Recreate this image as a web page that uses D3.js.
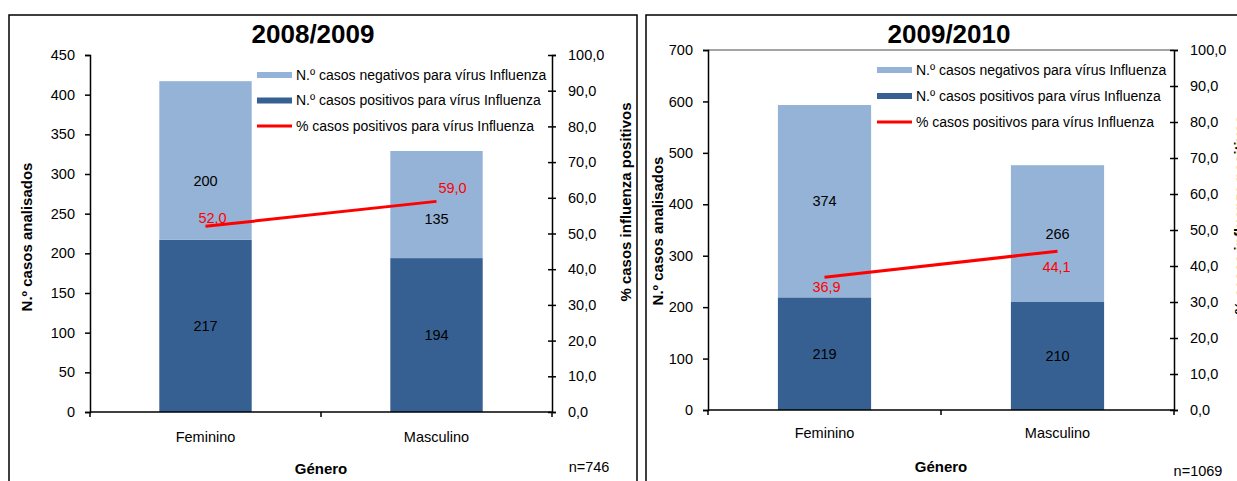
<!DOCTYPE html>
<html>
<head>
<meta charset="utf-8">
<script src="https://cdn.jsdelivr.net/npm/d3@7"></script>
<style>
  body { margin: 0; background: #fff; }
  svg { display: block; font-family: Arial, "Liberation Sans", sans-serif; }
</style>
</head>
<body>
<svg id="chart" width="1237" height="481"></svg>
<script>
// Casos analisados por género e época gripal
const generos = ["Feminino", "Masculino"];

const positivos0809 = [217, 194];
const negativos0809 = [200, 135];
const percentPos0809 = [52.0, 59.0];

const positivos0910 = [219, 210];
const negativos0910 = [374, 266];
const percentPos0910 = [36.9, 44.1];

const ticksCasos0809 = [0, 50, 100, 150, 200, 250, 300, 350, 400, 450];
const ticksCasos0910 = [0, 100, 200, 300, 400, 500, 600, 700];
const ticksPercent = [0, 10, 20, 30, 40, 50, 60, 70, 80, 90, 100];

const legendLabels = [
  "N.º casos negativos para vírus Influenza",
  "N.º casos positivos para vírus Influenza",
  "% casos positivos para vírus Influenza"
];

const COLOR_NEG = "#95b3d7";
const COLOR_POS = "#376092";
const COLOR_LINE = "#ff0000";

// Portuguese number format: decimal comma
const pt = d3.formatLocale({ decimal: ",", thousands: ".", grouping: [3], currency: ["", " €"] });
const fmt1 = pt.format(".1f");

const svg = d3.select("#chart");

function drawPanel(cfg) {
  const g = svg.append("g");

  // outer frame
  g.append("rect")
    .attr("x", cfg.box.x).attr("y", cfg.box.y)
    .attr("width", cfg.box.w).attr("height", cfg.box.h)
    .attr("fill", "none").attr("stroke", "#000").attr("stroke-width", 1.5);

  const { l, r, t, b } = cfg.plot;

  const x = d3.scaleBand().domain(generos).range([l, r])
    .paddingInner(0.6).paddingOuter(0.3);
  const yL = d3.scaleLinear().domain(cfg.casosDomain).range([b, t]);
  const yR = d3.scaleLinear().domain([0, 100]).range([b, t]);

  // optional top border of plot area
  if (cfg.topLine) {
    g.append("line").attr("x1", l).attr("x2", r).attr("y1", t).attr("y2", t)
      .attr("stroke", "#868686").attr("stroke-width", 1.5);
  }

  // stacked bars
  const rows = generos.map((d, i) => ({
    genero: d, pos: cfg.positivos[i], neg: cfg.negativos[i], pct: cfg.percent[i]
  }));

  g.selectAll(".pos").data(rows).join("rect")
    .attr("x", d => x(d.genero)).attr("width", x.bandwidth())
    .attr("y", d => yL(d.pos)).attr("height", d => yL(0) - yL(d.pos))
    .attr("fill", COLOR_POS);

  g.selectAll(".neg").data(rows).join("rect")
    .attr("x", d => x(d.genero)).attr("width", x.bandwidth())
    .attr("y", d => yL(d.pos + d.neg)).attr("height", d => yL(d.pos) - yL(d.pos + d.neg))
    .attr("fill", COLOR_NEG);

  // value labels inside the segments
  g.selectAll(".lblPos").data(rows).join("text")
    .attr("x", d => x(d.genero) + x.bandwidth() / 2)
    .attr("y", d => yL(d.pos / 2)).attr("dy", "0.35em")
    .attr("text-anchor", "middle").attr("font-size", 14.5).attr("fill", "#000")
    .text(d => d.pos);

  g.selectAll(".lblNeg").data(rows).join("text")
    .attr("x", d => x(d.genero) + x.bandwidth() / 2)
    .attr("y", (d, i) => yL(d.pos + d.neg / 2) + cfg.negShift[i]).attr("dy", "0.35em")
    .attr("text-anchor", "middle").attr("font-size", 14.5).attr("fill", "#000")
    .text(d => d.neg);

  // axes
  const axL = d3.axisLeft(yL).tickValues(cfg.casosTicks).tickSize(5).tickPadding(10)
    .tickFormat(d3.format("d"));
  const gL = g.append("g").attr("transform", `translate(${l},0)`).call(axL);

  const axR = d3.axisRight(yR).tickValues(ticksPercent).tickSize(4).tickPadding(12)
    .tickFormat(fmt1);
  const gR = g.append("g").attr("transform", `translate(${r},0)`).call(axR);
  gR.selectAll(".tick line").attr("x1", -4).attr("x2", 4);

  const axB = d3.axisBottom(x).tickSize(0).tickPadding(cfg.xLabelPad);
  const gB = g.append("g").attr("transform", `translate(0,${b})`).call(axB);
  gB.select(".domain").attr("d", `M${l},0H${r}`);
  [0, 1, 2].forEach(i => {
    const xx = l + i * x.step();
    gB.append("line").attr("x1", xx).attr("x2", xx).attr("y1", 0).attr("y2", 5)
      .attr("stroke", "#000").attr("stroke-width", 1.5);
  });

  [gL, gR, gB].forEach(a => {
    a.selectAll("text").attr("font-size", 14.5).attr("fill", "#000")
      .attr("font-family", "Arial, 'Liberation Sans', sans-serif");
    a.selectAll("line").attr("stroke", "#000").attr("stroke-width", 1.5);
    a.select(".domain").attr("stroke", "#000").attr("stroke-width", 1.5);
  });

  // percentage line
  const line = d3.line().x(d => x(d.genero) + x.bandwidth() / 2).y(d => yR(d.pct));
  g.append("path").datum(rows).attr("d", line)
    .attr("fill", "none").attr("stroke", COLOR_LINE).attr("stroke-width", 3);

  g.selectAll(".lblPct").data(rows).join("text")
    .attr("x", (d, i) => x(d.genero) + x.bandwidth() / 2 + cfg.pctShift[i][0])
    .attr("y", (d, i) => yR(d.pct) + cfg.pctShift[i][1]).attr("dy", "0.35em")
    .attr("text-anchor", "middle").attr("font-size", 14.5).attr("fill", COLOR_LINE)
    .text(d => fmt1(d.pct));

  // title
  g.append("text").attr("x", cfg.titleX).attr("y", 34).attr("dy", "0.35em")
    .attr("text-anchor", "middle").attr("font-size", 26).attr("font-weight", "bold")
    .text(cfg.title);

  // axis titles
  g.append("text")
    .attr("transform", `translate(${cfg.yTitleL[0]},${cfg.yTitleL[1]}) rotate(-90)`)
    .attr("dy", "0.35em").attr("text-anchor", "middle")
    .attr("font-size", 15).attr("font-weight", "bold")
    .text("N.º casos analisados");

  g.append("text")
    .attr("transform", `translate(${cfg.yTitleR[0]},${cfg.yTitleR[1]}) rotate(-90)`)
    .attr("dy", "0.35em").attr("text-anchor", "middle")
    .attr("font-size", 15).attr("font-weight", "bold")
    .text("% casos influenza positivos");

  g.append("text").attr("x", l + x.step()).attr("y", cfg.xTitleY).attr("dy", "0.35em")
    .attr("text-anchor", "middle").attr("font-size", 15).attr("font-weight", "bold")
    .text("Género");

  g.append("text").attr("x", cfg.nPos[0]).attr("y", cfg.nPos[1]).attr("dy", "0.35em")
    .attr("text-anchor", "middle").attr("font-size", 14.5)
    .text(cfg.n);

  // legend
  const lg = g.append("g").attr("transform", `translate(${cfg.legend[0]},${cfg.legend[1]})`);
  legendLabels.forEach((label, i) => {
    const yy = i * cfg.legendStep;
    if (i < 2) {
      lg.append("rect").attr("x", 0).attr("y", yy - 3).attr("width", 35).attr("height", 6)
        .attr("fill", i === 0 ? COLOR_NEG : COLOR_POS);
    } else {
      lg.append("line").attr("x1", 0).attr("x2", 35).attr("y1", yy).attr("y2", yy)
        .attr("stroke", COLOR_LINE).attr("stroke-width", 3);
    }
    lg.append("text").attr("x", 39).attr("y", yy).attr("dy", "0.35em")
      .attr("font-size", 14).text(label);
  });
}

drawPanel({
  title: "2008/2009", n: "n=746",
  positivos: positivos0809, negativos: negativos0809, percent: percentPos0809,
  casosDomain: [0, 450], casosTicks: ticksCasos0809,
  box: { x: 9, y: 15, w: 628, h: 500 },
  plot: { l: 90, r: 552, t: 55, b: 412 },
  topLine: false,
  negShift: [20, 14],
  pctShift: [[7, -8], [16, -13]],
  titleX: 313,
  yTitleL: [27, 237], yTitleR: [626, 202],
  xLabelPad: 20, xTitleY: 469, nPos: [589, 467],
  legend: [257, 75], legendStep: 25.5
});

drawPanel({
  title: "2009/2010", n: "n=1069",
  positivos: positivos0910, negativos: negativos0910, percent: percentPos0910,
  casosDomain: [0, 700], casosTicks: ticksCasos0910,
  box: { x: 646, y: 15, w: 620, h: 500 },
  plot: { l: 708, r: 1174, t: 50, b: 410 },
  topLine: true,
  negShift: [0, 0],
  pctShift: [[2, 10], [-1, 16]],
  titleX: 949,
  yTitleL: [658, 231], yTitleR: [1240, 215],
  xLabelPad: 18, xTitleY: 467, nPos: [1198, 471],
  legend: [877, 70], legendStep: 26
});
</script>
</body>
</html>
